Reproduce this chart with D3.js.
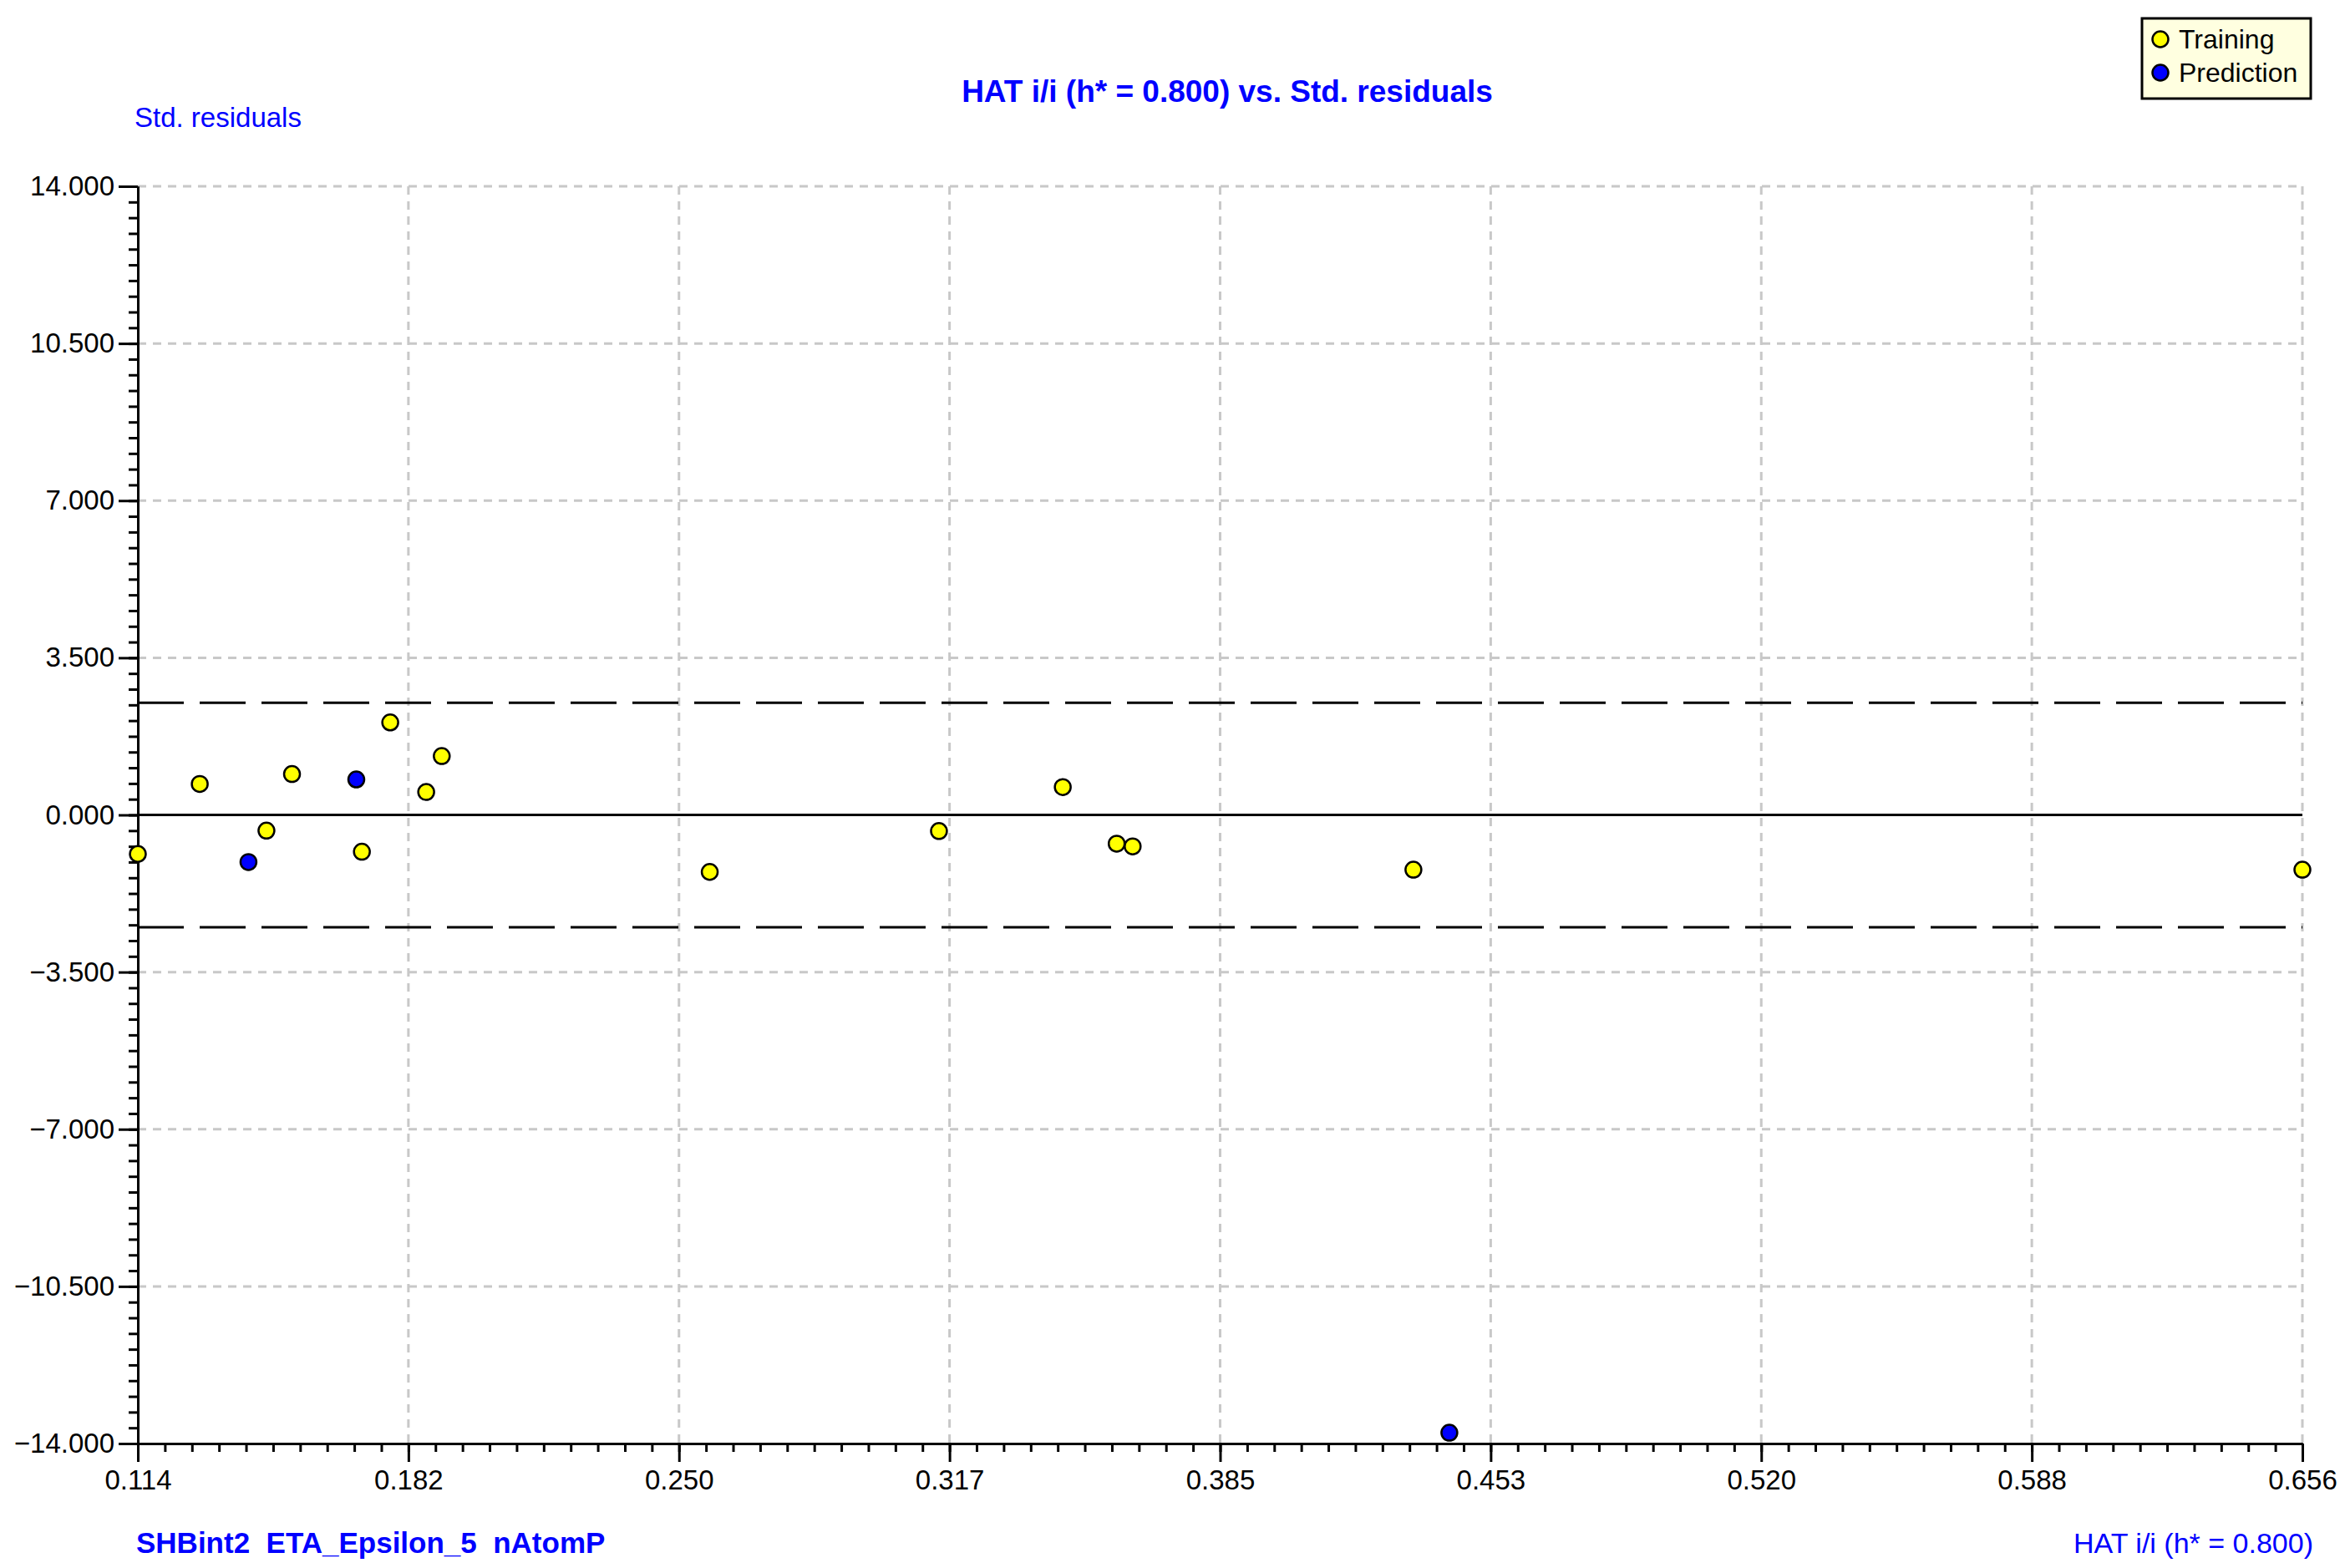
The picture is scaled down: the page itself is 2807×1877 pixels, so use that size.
<!DOCTYPE html>
<html>
<head>
<meta charset="utf-8">
<script src="https://cdn.jsdelivr.net/npm/d3@7"></script>
<style>
  html, body { margin: 0; padding: 0; background: #ffffff; }
  svg { display: block; }
  text { font-family: "Liberation Sans", Arial, sans-serif; }
</style>
</head>
<body>
<svg id="chart" width="2807" height="1877"></svg>
<script>
// ---- data ----
const trainX = [0.1140, 0.1295, 0.1462, 0.1526, 0.1701, 0.1772, 0.1862, 0.1901, 0.2572, 0.3146, 0.3456, 0.3591, 0.3631, 0.4334, 0.6560];
const trainY = [-0.87, 0.69, -0.35, 0.91, -0.82, 2.06, 0.51, 1.31, -1.27, -0.36, 0.62, -0.64, -0.70, -1.22, -1.22];
const predX = [0.1417, 0.1687, 0.4424];
const predY = [-1.05, 0.79, -13.76];
const xDomain = [0.114, 0.656];
const yDomain = [-14, 14];
const xTickLabels = ["0.114", "0.182", "0.250", "0.317", "0.385", "0.453", "0.520", "0.588", "0.656"];
const yTickValues = [14, 10.5, 7, 3.5, 0, -3.5, -7, -10.5, -14];
const yTickLabels = ["14.000", "10.500", "7.000", "3.500", "0.000", "\u22123.500", "\u22127.000", "\u221210.500", "\u221214.000"];
const limitValue = 2.5;
const titleText = "HAT i/i (h* = 0.800) vs. Std. residuals";
const yAxisTitle = "Std. residuals";
const xAxisTitle = "HAT i/i (h* = 0.800)";
const descriptorsText = "SHBint2  ETA_Epsilon_5  nAtomP";
const legendLabels = ["Training", "Prediction"];

// ---- layout ----
const L = 165, R = 2756, T = 223, B = 1728;
const svg = d3.select("#chart");
svg.append("rect").attr("width", 2807).attr("height", 1877).attr("fill", "#ffffff");

const x = d3.scaleLinear().domain(xDomain).range([L, R]);
const y = d3.scaleLinear().domain(yDomain).range([B, T]);

const xStep = (xDomain[1] - xDomain[0]) / 8;
const xTickValues = d3.range(9).map(i => xDomain[0] + i * xStep);
const xMinor = d3.range(81).map(i => xDomain[0] + i * xStep / 10);
const yMinor = d3.range(81).map(i => yDomain[0] + i * 0.35);

// grid
const grid = svg.append("g");
grid.selectAll("line.vg").data(xTickValues.slice(1)).enter().append("line")
  .attr("x1", d => x(d)).attr("x2", d => x(d)).attr("y1", T).attr("y2", B)
  .attr("stroke", "#c8c8c8").attr("stroke-width", 3).attr("stroke-dasharray", "10,8");
grid.selectAll("line.hg").data(yTickValues.filter(v => v !== 0 && v !== yDomain[0])).enter().append("line")
  .attr("x1", L).attr("x2", R).attr("y1", d => y(d)).attr("y2", d => y(d))
  .attr("stroke", "#c8c8c8").attr("stroke-width", 3).attr("stroke-dasharray", "10,8");

// zero line
svg.append("line").attr("x1", L).attr("x2", R).attr("y1", y(0)).attr("y2", y(0))
  .attr("stroke", "#000").attr("stroke-width", 3);

// limit lines
[limitValue, -limitValue].forEach(v => {
  svg.append("line").attr("x1", L).attr("x2", R).attr("y1", y(v)).attr("y2", y(v))
    .attr("stroke", "#000").attr("stroke-width", 3).attr("stroke-dasharray", "55,19");
});

// axes
const fontSize = 33;
const yMinorAxis = svg.append("g").attr("transform", `translate(${L},0)`)
  .call(d3.axisLeft(y).tickValues(yMinor).tickSize(11).tickSizeOuter(0).tickFormat(""));
const yAxis = svg.append("g").attr("transform", `translate(${L},0)`)
  .call(d3.axisLeft(y).tickValues(yTickValues).tickSize(23).tickSizeOuter(0).tickPadding(5)
    .tickFormat((d, i) => yTickLabels[i]));
const xMinorAxis = svg.append("g").attr("transform", `translate(0,${B})`)
  .call(d3.axisBottom(x).tickValues(xMinor).tickSize(10).tickSizeOuter(0).tickFormat(""));
const xAxis = svg.append("g").attr("transform", `translate(0,${B})`)
  .call(d3.axisBottom(x).tickValues(xTickValues).tickSize(22).tickSizeOuter(0).tickPadding(10)
    .tickFormat((d, i) => xTickLabels[i]));

[yMinorAxis, yAxis, xMinorAxis, xAxis].forEach(g => {
  g.selectAll("path.domain").attr("stroke", "#000").attr("stroke-width", 3);
  g.selectAll(".tick line").attr("stroke", "#000").attr("stroke-width", 3);
  g.selectAll(".tick text").attr("fill", "#000").style("font-size", fontSize + "px")
    .style("font-family", "'Liberation Sans', Arial, sans-serif");
});

// points
const r = 9.5;
svg.append("g").selectAll("circle").data(trainX.map((d, i) => [d, trainY[i]])).enter().append("circle")
  .attr("cx", d => x(d[0])).attr("cy", d => y(d[1])).attr("r", r)
  .attr("fill", "#ffff00").attr("stroke", "#000").attr("stroke-width", 2.5);
svg.append("g").selectAll("circle").data(predX.map((d, i) => [d, predY[i]])).enter().append("circle")
  .attr("cx", d => x(d[0])).attr("cy", d => y(d[1])).attr("r", r)
  .attr("fill", "#0000ff").attr("stroke", "#000").attr("stroke-width", 2.5);

// titles
svg.append("text").attr("x", 1469).attr("y", 122).attr("text-anchor", "middle")
  .attr("fill", "#0000ff").style("font-size", "37px").style("font-weight", "bold").text(titleText);
svg.append("text").attr("x", 161).attr("y", 152)
  .attr("fill", "#0000ff").style("font-size", "33px").text(yAxisTitle);
svg.append("text").attr("x", 163).attr("y", 1859)
  .attr("fill", "#0000ff").style("font-size", "35px").style("font-weight", "bold")
  .style("white-space", "pre").text(descriptorsText);
svg.append("text").attr("x", 2769).attr("y", 1859).attr("text-anchor", "end")
  .attr("fill", "#0000ff").style("font-size", "34px").text(xAxisTitle);

// legend
const lg = svg.append("g");
lg.append("rect").attr("x", 2564).attr("y", 22).attr("width", 202).attr("height", 96)
  .attr("fill", "#ffffe0").attr("stroke", "#000").attr("stroke-width", 3);
const legendColors = ["#ffff00", "#0000ff"];
legendLabels.forEach((lab, i) => {
  lg.append("circle").attr("cx", 2586).attr("cy", 47 + i * 40).attr("r", r)
    .attr("fill", legendColors[i]).attr("stroke", "#000").attr("stroke-width", 2.5);
  lg.append("text").attr("x", 2608).attr("y", 58 + i * 40).attr("fill", "#000")
    .style("font-size", "32px").text(lab);
});
</script>
</body>
</html>
